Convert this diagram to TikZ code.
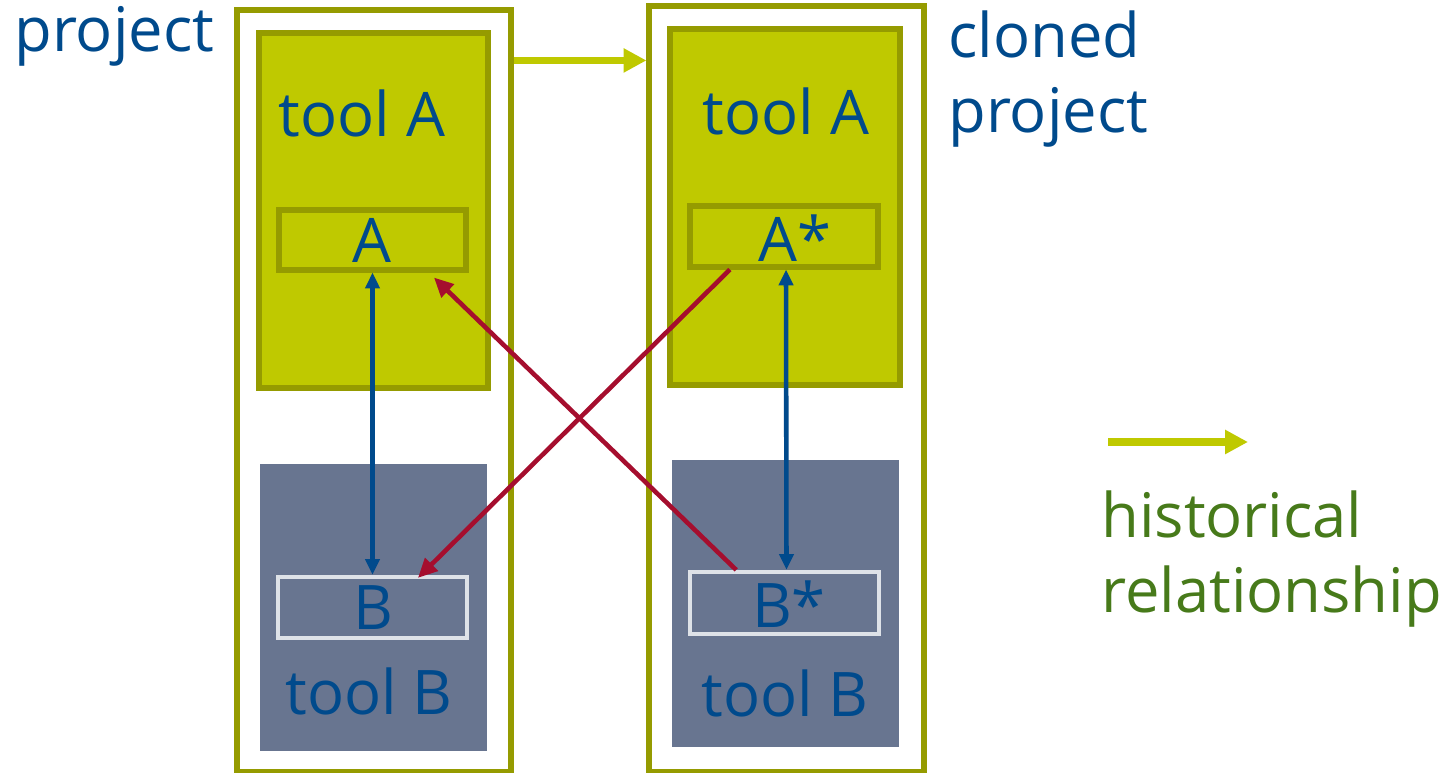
\documentclass[tikz,border=0pt]{standalone}
\usepackage{fontspec}
\setmainfont{Open Sans}
\usetikzlibrary{arrows.meta,fit,calc}

\definecolor{frameolive}{RGB}{149,155,0}
\definecolor{toolgreen}{RGB}{191,201,0}
\definecolor{toolslate}{RGB}{104,117,144}
\definecolor{softwhite}{RGB}{222,226,232}
\definecolor{textblue}{RGB}{0,74,140}
\definecolor{linkred}{RGB}{165,14,46}
\definecolor{legendgreen}{RGB}{71,122,26}

\tikzset{
  projbox/.style={draw=frameolive, line width=2.9pt, inner sep=0pt},
  toolAbox/.style={draw=frameolive, fill=toolgreen, line width=2.9pt, inner sep=0pt},
  toolBbox/.style={fill=toolslate, inner sep=0pt},
  artAbox/.style={draw=frameolive, line width=2.9pt, inner sep=0pt},
  artBbox/.style={draw=softwhite, line width=2.4pt, inner sep=0pt},
  lbl/.style={text=textblue, inner sep=0pt, anchor=base, font=\fontsize{35}{43}\selectfont},
  bluelink/.style={draw=textblue, line width=2.6pt, {Triangle[length=9pt,width=8pt]}-{Triangle[length=9pt,width=8pt]}},
  redlink/.style={draw=linkred, line width=2.6pt, -{Triangle[length=11pt,width=10pt]}},
  histlink/.style={draw=toolgreen, line width=4pt, -{Triangle[length=13pt,width=13pt]}}
}

\begin{document}
\begin{tikzpicture}[x=0.02cm, y=-0.02cm]
\useasboundingbox (0,0) rectangle (1445,773);

% the two projects
\node[projbox, fit={(237,10) (511,772)}] (proj) {};
\node[projbox, fit={(649,6) (924,772)}] (clone) {};

% tools inside them
\node[toolAbox, fit={(259,33) (488,388)}] (toolA) {};
\node[toolBbox, fit={(260,464) (487,751)}] (toolB) {};
\node[toolAbox, fit={(670,29) (900,385)}] (toolAc) {};
\node[toolBbox, fit={(672,460) (899,747)}] (toolBc) {};

% artefacts
\node[artAbox, fit={(279,210) (466,270)}] (artA) {};
\node[artBbox, fit={(278,577) (467,638)}] (artB) {};
\node[artAbox, fit={(690,206) (878,267)}] (artAc) {};
\node[artBbox, fit={(690,572) (879,634)}] (artBc) {};

% texts
\node[lbl, anchor=base west] (projlbl) at (14,52) {project};
\node[lbl, anchor=base west, align=left] (clonelbl) at (948,133) {cloned\\project};
\node[lbl] (toolAlbl) at (362,137) {tool A};
\node[lbl] (toolAclbl) at (786,135) {tool A};
\node[lbl] (toolBlbl) at (369,715) {tool B};
\node[lbl] (toolBclbl) at (785,717) {tool B};
\node[lbl] (artAlbl) at (372,263) {A};
\node[lbl] (artAclbl) at (795,262) {A*};
\node[lbl] (artBlbl) at (373,630) {B};
\node[lbl] (artBclbl) at (789,628) {B*};

% links
\draw[bluelink] (artA.south) -- (artB.north);
\draw[bluelink] ($(artAc.south)+(2,0)$) -- ($(artBc.north)+(2,0)$);
\draw[redlink] ($(artBc.north west)!0.25!(artBc.north east)$) -- ($(artA.south west)!0.82!(artA.south east)+(0,5)$);
\draw[redlink] ($(artAc.south west)!0.22!(artAc.south east)$) -- ($(artB.north west)!0.735!(artB.north east)+(0,3)$);
\draw[histlink] ($(proj.north east)+(0,53)$) -- ($(clone.north west)+(0,57)$);

% legend
\coordinate (legstart) at (1108,442);
\coordinate (legend) at (1248,442);
\draw[histlink] (legstart) -- (legend);
\node[lbl, anchor=base west, text=legendgreen, align=left] (leglbl) at (1101,613) {historical\\relationship};
\end{tikzpicture}
\end{document}
